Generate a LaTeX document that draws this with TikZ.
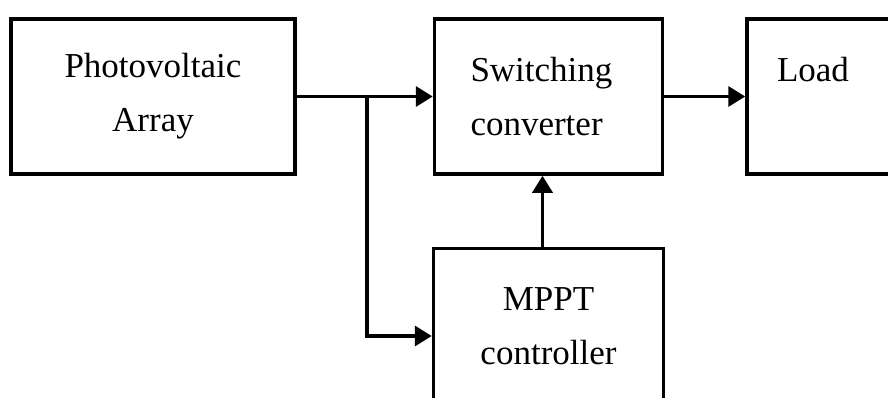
\documentclass[tikz,border=0pt]{standalone}
\usepackage{fontspec}
\setmainfont{Liberation Serif}
\usetikzlibrary{arrows.meta,positioning}
\tikzset{
  block/.style={rectangle, draw=black, line width=3.5pt, minimum width=228pt, minimum height=155pt, inner sep=0pt, font=\fontsize{35}{54}\selectfont},
  arr/.style={-{Triangle[length=17pt,width=20pt]}, draw=black, line width=3.5pt},
}

\begin{document}
\begin{tikzpicture}[x=1pt,y=1pt,node distance=71pt and 136pt]
\useasboundingbox (0,0) rectangle (888,-398);
\clip (0,0) rectangle (888,-398);
\node[block, minimum width=284pt, align=center] (pv) at (153,-96.5) {Photovoltaic\\Array};
\node[block, right=of pv, text width=156pt, align=left] (conv) {Switching\\converter};
\node[block, right=81pt of conv, text width=168pt, align=left] (load) {Load\\\mbox{}};
\node[block, below=of conv, minimum width=230pt, align=center] (mppt) {MPPT\\controller};
\coordinate[right=70pt of pv] (split);
\draw[arr] (pv) -- (conv);
\draw[arr] (conv) -- (load);
\draw[arr] ([xshift=-6pt]mppt.north) -- ([xshift=-6pt]conv.south);
\draw[arr] (split) |- ([yshift=-10pt]mppt.west);
\end{tikzpicture}
\end{document}
